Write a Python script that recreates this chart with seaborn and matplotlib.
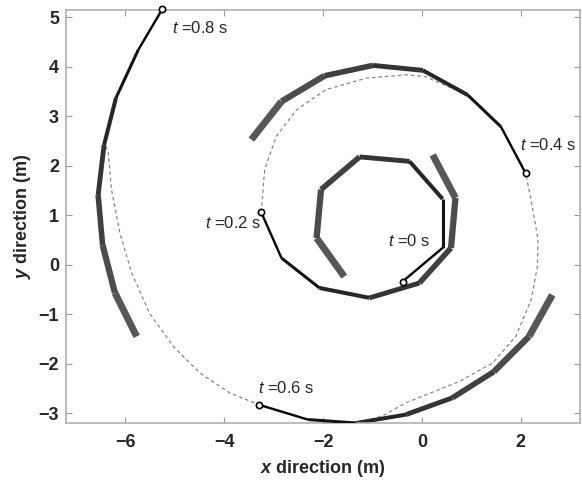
import numpy as np
import pandas as pd
import matplotlib
matplotlib.use("Agg")
import matplotlib.pyplot as plt
import seaborn as sns

# Snapshots of the chain (head first, then joints toward the tail), metres
snap_times = ["0", "0.2", "0.4", "0.6", "0.8"]
chain_x = {
    "0":   [-0.39, 0.42, 0.42, -0.25, -1.26, -2.04, -2.13, -1.57],
    "0.2": [-3.25, -2.84, -2.07, -1.06, -0.05, 0.59, 0.68, 0.22],
    "0.4": [2.10, 1.60, 0.93, 0.02, -0.99, -1.97, -2.84, -3.45],
    "0.6": [-3.30, -2.31, -1.33, -0.32, 0.62, 1.46, 2.17, 2.64],
    "0.8": [-5.25, -5.74, -6.19, -6.43, -6.55, -6.46, -6.21, -5.77],
}
chain_y = {
    "0":   [-0.34, 0.34, 1.33, 2.09, 2.18, 1.52, 0.54, -0.24],
    "0.2": [1.06, 0.135, -0.47, -0.67, -0.37, 0.34, 1.35, 2.22],
    "0.4": [1.85, 2.79, 3.43, 3.93, 4.03, 3.82, 3.30, 2.53],
    "0.6": [-2.83, -3.13, -3.20, -3.03, -2.69, -2.16, -1.45, -0.61],
    "0.8": [5.17, 4.34, 3.37, 2.42, 1.41, 0.40, -0.57, -1.45],
}

# path of the head (dashed)
path_x = [-3.25, -3.18, -2.95, -2.54, -1.94, -1.13, -0.32, 0.08, 0.93, 1.60, 2.10,
          2.21, 2.35, 2.34, 2.21, 1.90, 1.43, 0.76, -0.32, -0.80, -1.33, -2.31, -3.30,
          -3.89, -4.49, -5.03, -5.51, -5.87, -6.11, -6.28, -6.35, -6.43, -6.19, -5.74, -5.25]
path_y = [1.06, 1.92, 2.59, 3.13, 3.54, 3.77, 3.84, 3.80, 3.43, 2.79, 1.85,
          1.31, 0.51, -0.03, -0.71, -1.45, -1.99, -2.36, -2.79, -3.06, -3.20, -3.13, -2.83,
          -2.59, -2.19, -1.65, -0.98, -0.17, 0.64, 1.52, 2.32, 2.42, 3.37, 4.34, 5.17]

# label positions (left edge, vertical centre)
label_x = [-0.69, -4.39, 1.98, -3.32, -5.06]
label_y = [0.47, 0.84, 2.42, -2.49, 4.78]

# link styles, head -> tail
link_widths = [1.7, 2.2, 2.9, 3.5, 4.0, 4.5, 5.0]
link_colors = ["#000000", "#141414", "#262626", "#343434", "#404040", "#4c4c4c", "#575757"]

sns.set_style("ticks")
plt.rcParams["font.family"] = ["Liberation Sans", "DejaVu Sans"]
plt.rcParams["mathtext.fontset"] = "custom"
plt.rcParams["mathtext.rm"] = "Liberation Sans"
plt.rcParams["mathtext.it"] = "Liberation Sans:italic"
plt.rcParams["mathtext.bf"] = "Liberation Sans:bold"
plt.rcParams["mathtext.bfit"] = "Liberation Sans:italic:bold"

fig = plt.figure(figsize=(5.82, 4.83), dpi=100)
ax = fig.add_axes([66 / 582, 60 / 483, 514 / 582, 413 / 483])

df_path = pd.DataFrame({"x": path_x, "y": path_y})
sns.lineplot(data=df_path, x="x", y="y", sort=False, estimator=None, errorbar=None,
             ax=ax, color="#808080", linewidth=0.85, linestyle=(0, (3, 2.5)), zorder=1)

for t in snap_times:
    xs, ys = chain_x[t], chain_y[t]
    for i in reversed(range(len(xs) - 1)):
        ax.plot(xs[i:i + 2], ys[i:i + 2], color=link_colors[i], lw=link_widths[i],
                solid_capstyle="butt", solid_joinstyle="miter", zorder=2 + (7 - i) * 0.1)
    ax.plot(xs[0], ys[0], marker="o", ms=4.5, mfc="white", mec="black", mew=1.2,
            zorder=5, clip_on=False)

for t, lx, ly in zip(snap_times, label_x, label_y):
    ax.text(lx, ly, r"$t$ =" + t + " s", fontsize=12, ha="left", va="center", zorder=6)

ax.set_xlim(-7.2, 3.2)
ax.set_ylim(-3.2, 5.15)
ax.set_xticks([-6, -4, -2, 0, 2])
ax.set_yticks([-3, -2, -1, 0, 1, 2, 3, 4, 5])
ax.grid(False)
ax.tick_params(direction="in", length=4, width=0.8, color="#999999",
               top=True, right=True, labelsize=13)
ax.tick_params(axis="x", pad=8)
ax.tick_params(axis="y", pad=5)
for lab in ax.get_xticklabels() + ax.get_yticklabels():
    lab.set_fontweight("bold")
for sp in ax.spines.values():
    sp.set_color("#b0b0b0")
    sp.set_linewidth(1.2)

ax.set_xlabel(r"$\mathbfit{x}$ direction (m)", fontsize=13, fontweight="bold", labelpad=5)
ax.set_ylabel(r"$\mathbfit{y}$ direction (m)", fontsize=13, fontweight="bold", labelpad=4)

fig.savefig("out.png", dpi=100)
